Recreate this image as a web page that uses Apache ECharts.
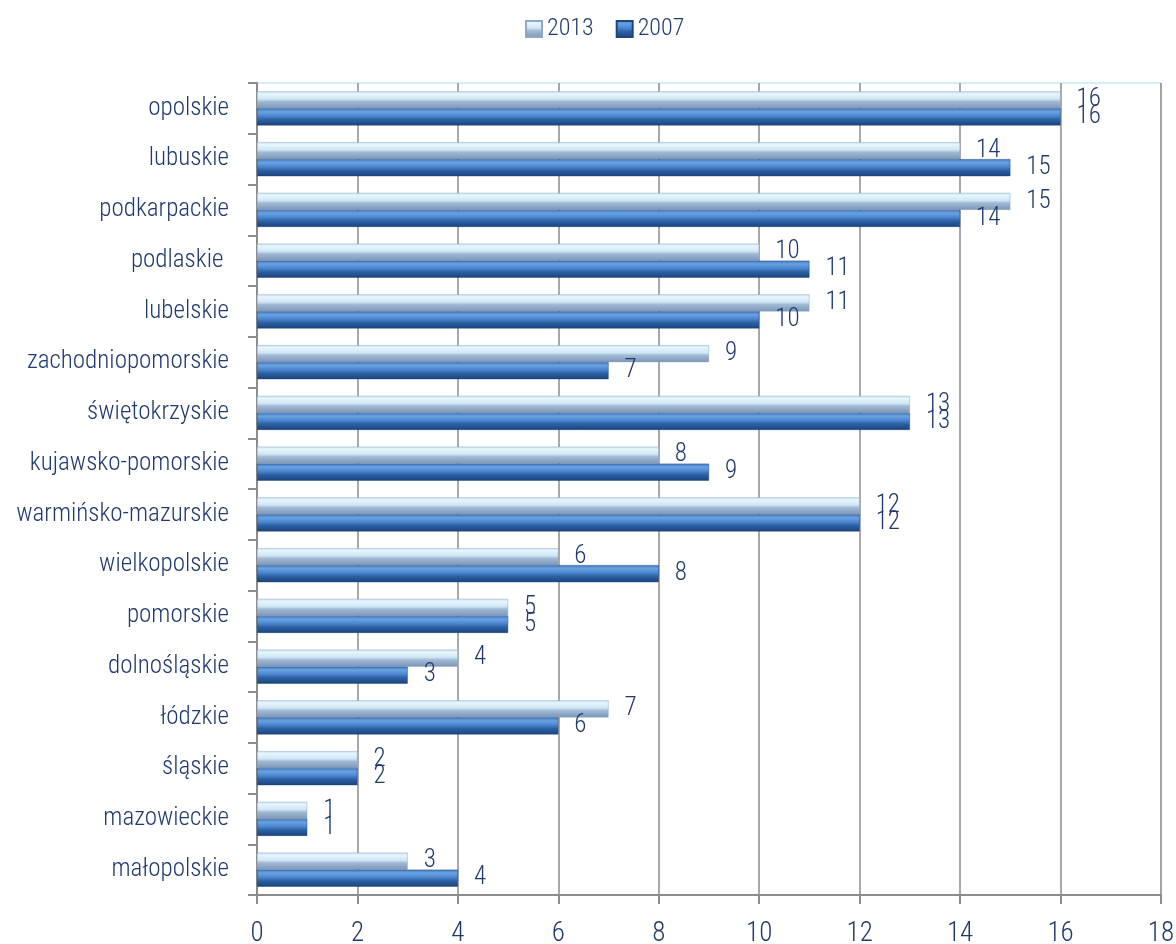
<!DOCTYPE html>
<html><head><meta charset="utf-8">
<script src="https://cdn.jsdelivr.net/npm/echarts@6/dist/echarts.min.js"></script>
<style>html,body{margin:0;padding:0;background:#fff}#c{width:1176px;height:944px}</style>
</head><body><div id="c"></div>
<script>
const categories = ['opolskie','lubuskie','podkarpackie','podlaskie ','lubelskie','zachodniopomorskie','świętokrzyskie','kujawsko-pomorskie','warmińsko-mazurskie','wielkopolskie','pomorskie','dolnośląskie','łódzkie','śląskie','mazowieckie','małopolskie'];
const values2013 = [16,14,15,10,11,9,13,8,12,6,5,4,7,2,1,3];
const values2007 = [16,15,14,11,10,7,13,9,12,8,5,3,6,2,1,4];
const xTicks = [0,2,4,6,8,10,12,14,16,18];

const FONT = "'Roboto Condensed','Liberation Sans Narrow','DejaVu Sans Condensed',Roboto,sans-serif";
const NAVY = '#1f3a6e';
const grad2013 = new echarts.graphic.LinearGradient(0,0,0,1,[
  {offset:0,color:'#c4dff1'},{offset:0.15,color:'#e6f6fd'},{offset:0.45,color:'#cfe6f5'},{offset:0.6,color:'#a0bad5'},{offset:1,color:'#7b95b6'}]);
const grad2007 = new echarts.graphic.LinearGradient(0,0,0,1,[
  {offset:0,color:'#3f78c0'},{offset:0.2,color:'#6aa2e0'},{offset:0.45,color:'#4a86d0'},{offset:0.65,color:'#2d62a6'},{offset:1,color:'#1c4379'}]);

const chart = echarts.init(document.getElementById('c'));
chart.setOption({
  animation:false,
  textStyle:{fontFamily:FONT},
  legend:{
    top:12, left:520, itemWidth:16, itemHeight:16, itemGap:22,
    textStyle:{fontSize:24, color:NAVY, fontFamily:FONT, fontWeight:300},
    data:[{name:'2013',icon:'rect'},{name:'2007',icon:'rect'}]
  },
  grid:{left:257, right:15, top:83, bottom:49, containLabel:false, outerBoundsMode:'none',
    show:true, borderColor:'#a6e0f5', borderWidth:1},
  xAxis:{
    type:'value', min:0, max:18, interval:2,
    axisLine:{show:true, lineStyle:{color:'#8c8c8c', width:2}},
    axisTick:{show:true, length:9, lineStyle:{color:'#8c8c8c', width:2}},
    splitLine:{show:true, lineStyle:{color:'#8c8c8c', width:1.5}},
    axisLabel:{fontSize:27, color:NAVY, margin:26, fontFamily:FONT, fontWeight:300,
      formatter:v=>xTicks.includes(v)?String(v):''}
  },
  yAxis:{
    type:'category', data:categories, inverse:true,
    axisLine:{show:true, lineStyle:{color:'#8c8c8c', width:2}},
    axisTick:{show:true, length:9, lineStyle:{color:'#8c8c8c', width:2}},
    axisLabel:{fontSize:25, color:NAVY, margin:28, fontFamily:FONT, fontWeight:300}
  },
  series:[
    {name:'2013', type:'bar', data:values2013, barWidth:17, barGap:'0%',
     itemStyle:{color:grad2013, borderColor:'#8fa8c4', borderWidth:0.5},
     label:{show:true, position:'right', distance:16, fontSize:25, color:NAVY, fontFamily:FONT, fontWeight:300}},
    {name:'2007', type:'bar', data:values2007, barWidth:17,
     itemStyle:{color:grad2007, borderColor:'#1e4680', borderWidth:0.5},
     label:{show:true, position:'right', distance:16, fontSize:25, color:NAVY, fontFamily:FONT, fontWeight:300}}
  ]
});
</script></body></html>
